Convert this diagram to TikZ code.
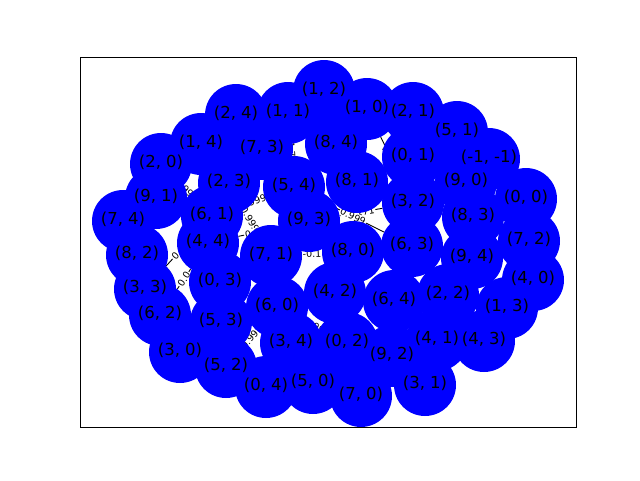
\documentclass[tikz,border=0pt]{standalone}
\usepackage{fontspec}
\setmainfont{DejaVu Sans}
\begin{document}
\begin{tikzpicture}[x=1pt,y=-1pt,
  vtx/.style={circle,fill=blue,draw=none,minimum size=62pt,inner sep=0pt},
  vlab/.style={inner sep=0pt,font=\fontsize{16.5}{18}\selectfont,text=black},
  elab/.style={fill=white,inner sep=1pt,font=\fontsize{9.5}{10}\selectfont,sloped,midway},
  edge/.style={draw=black,line width=0.9pt}]
\fill[white] (0,0) rectangle (640,480);
\useasboundingbox (0,0) rectangle (640,480);
% nodes: i/j/x/y (label centre)
\def\nodelist{1/2/324/89, 2/4/236/113, 1/1/288/111, 1/0/367/107, 2/1/413/111,
 5/1/457/130, 1/4/201/142, 7/3/262/147, 8/4/336/142, 0/1/413/155, -1/-1/489/157,
 2/0/161/162, 8/1/357/180, 9/0/466/180, 0/0/526/197, 9/1/156/196, 2/3/229/181,
 5/4/294/185, 3/2/413/201, 7/4/123/219, 6/1/212/214, 9/3/309/219, 8/3/473/215,
 7/2/529/239, 4/4/208/241, 7/1/271/254, 8/0/353/250, 6/3/412/244, 9/4/472/256,
 8/2/137/253, 4/0/533/278, 0/3/220/280, 3/3/145/287, 4/2/335/291, 6/4/394/299,
 2/2/448/293, 1/3/507/306, 6/0/277/305, 6/2/160/313, 5/3/221/320, 3/4/291/341,
 0/2/347/341, 4/1/437/338, 4/3/484/339, 9/2/392/354, 3/0/180/350, 5/2/226/365,
 0/4/266/385, 5/0/313/381, 7/0/361/394, 3/1/425/383}
% invisible anchors first so edges can be drawn beneath the discs
\foreach \i/\j/\x/\y in \nodelist {
  \node[circle,minimum size=62pt,inner sep=0pt] (n\i x\j) at (\x,\y+2) {};
}
% edges with labels
\path[edge] (n2x0) -- (n6x1) node[elab] {0.999};
\path[edge] (n6x1) -- (n5x4) node[elab] {0.999};
\path[edge] (n2x3) -- (n7x1) node[elab] {0.999};
\path[edge] (n4x4) -- (n9x3) node[elab] {0.999};
\path[edge] (n6x1) -- (n3x3) node[elab] {0.0};
\path[edge] (n4x4) -- (n6x2) node[elab] {0.0};
\path[edge] (n1x1) -- (n5x4) node[elab] {(1,7)};
\path[edge] (n1x0) -- (n3x2) node[elab] {(0.5)};
\path[edge] (n9x3) -- (n3x2) node[elab] {0.171};
\path[edge] (n5x4) -- (n6x3) node[elab] {0.999};
\path[edge] (n7x1) -- (n8x0) node[elab] {-0.1};
\path[edge] (n6x0) -- (n0x2) node[elab] {0.999};
\path[edge] (n6x0) -- (n5x2) node[elab] {0.999};
% discs
\foreach \i/\j/\x/\y in \nodelist {
  \node[vtx] (d\i x\j) at (\x,\y+2) {};
}
% labels
\foreach \i/\j/\x/\y in \nodelist {
  \node[vlab] (t\i x\j) at (\x,\y) {(\i, \j)};
}
\draw[line width=1pt] (80,57.6) rectangle (576,427.2);
\end{tikzpicture}
\end{document}
